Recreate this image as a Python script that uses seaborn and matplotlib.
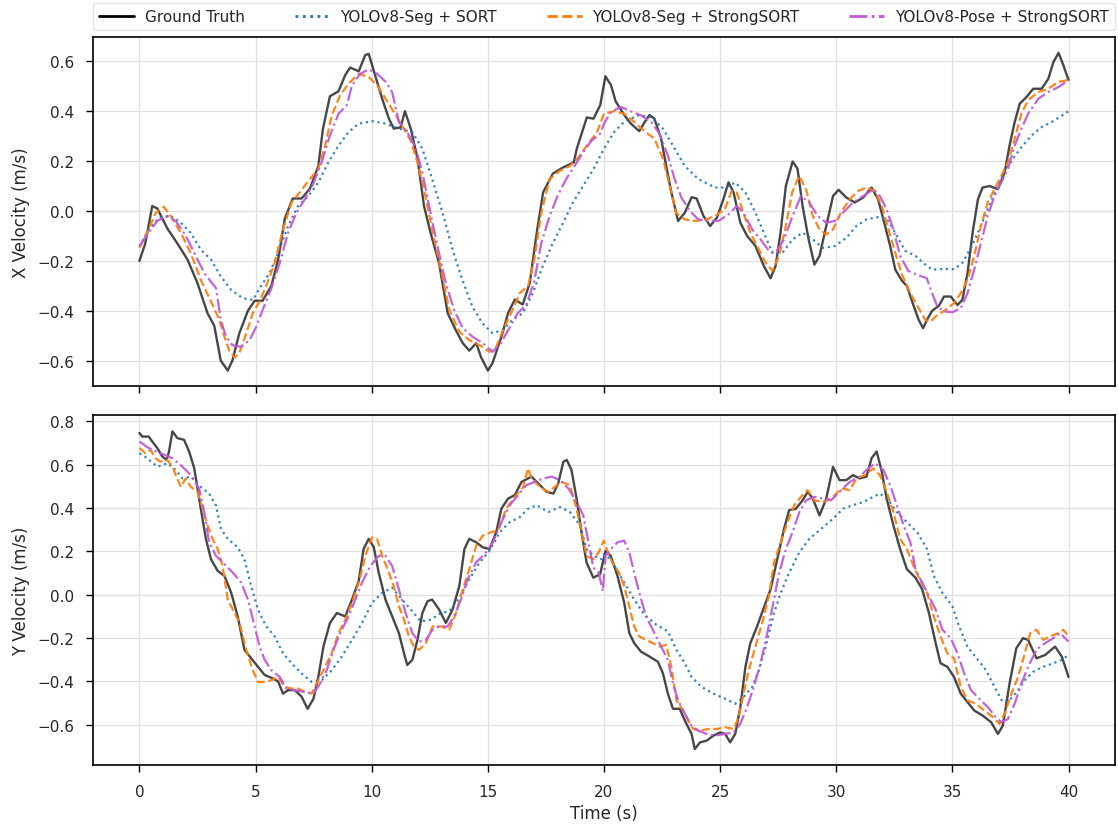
import matplotlib
matplotlib.use("Agg")
import matplotlib.pyplot as plt
from matplotlib.lines import Line2D
import seaborn as sns
import pandas as pd

# ---------------- data: (time s, velocity m/s) ----------------
gt_x = [(0,-0.2),(0.25,-0.13),(0.55,0.02),(0.77,0.01),(1.2,-0.07),(1.63,-0.13),(2.07,-0.195),(2.5,-0.29),(2.93,-0.41),(3.22,-0.46),(3.5,-0.6),(3.8,-0.64),(4.0,-0.6),(4.3,-0.49),(4.67,-0.40),(4.96,-0.36),(5.3,-0.36),(5.68,-0.30),(5.97,-0.195),(6.26,-0.03),(6.6,0.05),(6.98,0.05),(7.34,0.09),(7.7,0.18),(7.9,0.33),(8.2,0.46),(8.57,0.48),(8.86,0.545),(9.07,0.575),(9.44,0.56),(9.72,0.625),(9.87,0.63),(10.08,0.565),(10.45,0.45),(10.74,0.37),(10.95,0.33),(11.24,0.335),(11.43,0.40),(11.68,0.33),(11.97,0.21),(12.25,0.02),(12.54,-0.09),(12.9,-0.21),(13.27,-0.41),(13.63,-0.48),(13.92,-0.53),(14.2,-0.56),(14.5,-0.53),(14.7,-0.585),(15.0,-0.64),(15.2,-0.61),(15.58,-0.505),(15.87,-0.41),(16.16,-0.355),(16.5,-0.375),(16.8,-0.29),(17.1,-0.09),(17.38,0.075),(17.8,0.15),(18.25,0.175),(18.7,0.195),(18.83,0.25),(19.26,0.375),(19.55,0.37),(19.84,0.425),(20.06,0.54),(20.3,0.505),(20.5,0.44),(20.87,0.385),(21.16,0.35),(21.52,0.32),(21.74,0.355),(21.96,0.385),(22.17,0.37),(22.46,0.29),(22.68,0.18),(22.9,0.075),(23.19,-0.04),(23.48,-0.007),(23.77,0.055),(23.99,0.05),(24.28,-0.02),(24.57,-0.06),(24.86,-0.027),(25.14,0.047),(25.36,0.115),(25.58,0.074),(25.87,-0.047),(26.16,-0.10),(26.52,-0.14),(26.88,-0.22),(27.17,-0.27),(27.39,-0.22),(27.6,-0.087),(27.83,0.10),(28.12,0.198),(28.33,0.17),(28.55,0.02),(28.81,-0.114),(29.06,-0.215),(29.28,-0.18),(29.57,-0.06),(29.86,0.06),(30.1,0.085),(30.43,0.054),(30.8,0.034),(31.16,0.054),(31.52,0.094),(31.8,0.047),(32.03,-0.034),(32.32,-0.14),(32.54,-0.235),(32.83,-0.28),(33.04,-0.30),(33.33,-0.38),(33.55,-0.437),(33.74,-0.47),(33.9,-0.437),(34.13,-0.40),(34.42,-0.38),(34.64,-0.343),(34.93,-0.343),(35.22,-0.377),(35.43,-0.356),(35.65,-0.25),(35.87,-0.087),(36.1,0.047),(36.3,0.094),(36.6,0.10),(36.96,0.087),(37.25,0.155),(37.46,0.262),(37.68,0.356),(37.9,0.43),(38.19,0.457),(38.48,0.49),(38.84,0.49),(39.13,0.53),(39.35,0.597),(39.57,0.634),(39.78,0.584),(40,0.525)]

sort_x = [(0,-0.141),(0.4,-0.074),(0.84,-0.027),(1.34,-0.02),(1.78,-0.047),(2.2,-0.087),(2.64,-0.155),(3.08,-0.195),(3.5,-0.262),(3.94,-0.316),(4.45,-0.35),(4.88,-0.357),(5.24,-0.30),(5.6,-0.249),(5.97,-0.168),(6.4,-0.06),(6.83,0.02),(7.27,0.06),(7.7,0.114),(8.13,0.195),(8.57,0.262),(9.0,0.316),(9.44,0.35),(10.0,0.36),(10.6,0.35),(11.17,0.33),(11.75,0.316),(12.18,0.25),(12.6,0.128),(13.05,-0.007),(13.48,-0.155),(13.9,-0.276),(14.33,-0.383),(14.76,-0.45),(15.2,-0.49),(15.63,-0.478),(16.06,-0.437),(16.5,-0.41),(16.93,-0.33),(17.36,-0.222),(17.8,-0.128),(18.24,-0.047),(18.66,0.034),(19.1,0.10),(19.55,0.168),(20.0,0.25),(20.43,0.316),(20.87,0.357),(21.45,0.383),(22.03,0.377),(22.54,0.33),(22.97,0.262),(23.48,0.18),(24.06,0.128),(24.78,0.094),(25.22,0.094),(25.65,0.114),(26.09,0.074),(26.52,-0.007),(26.88,-0.087),(27.25,-0.168),(27.68,-0.168),(28.12,-0.114),(28.55,-0.087),(28.99,-0.114),(29.42,-0.148),(29.93,-0.141),(30.43,-0.108),(30.87,-0.06),(31.3,-0.034),(31.88,-0.023),(32.25,-0.04),(32.61,-0.10),(32.97,-0.16),(33.41,-0.18),(33.77,-0.21),(34.13,-0.235),(34.64,-0.233),(35.07,-0.233),(35.43,-0.208),(35.8,-0.148),(36.16,-0.074),(36.52,0.007),(36.88,0.087),(37.25,0.155),(37.61,0.21),(37.97,0.256),(38.41,0.303),(38.84,0.336),(39.28,0.357),(39.72,0.383),(40,0.40)]

strong_x = [(0,-0.148),(0.33,-0.087),(0.7,-0.007),(1.05,0.017),(1.34,-0.02),(1.78,-0.087),(2.2,-0.168),(2.64,-0.276),(3.08,-0.363),(3.44,-0.437),(3.66,-0.505),(3.87,-0.56),(4.09,-0.588),(4.3,-0.57),(4.6,-0.49),(4.88,-0.41),(5.17,-0.363),(5.46,-0.30),(5.82,-0.208),(6.18,-0.074),(6.55,0.034),(6.9,0.074),(7.27,0.12),(7.7,0.168),(7.99,0.26),(8.28,0.383),(8.64,0.464),(9.0,0.51),(9.44,0.55),(9.87,0.538),(10.23,0.504),(10.6,0.45),(10.95,0.397),(11.3,0.343),(11.68,0.282),(11.97,0.195),(12.25,0.087),(12.6,-0.074),(12.98,-0.235),(13.34,-0.397),(13.77,-0.484),(14.2,-0.518),(14.64,-0.538),(15.07,-0.565),(15.36,-0.545),(15.65,-0.478),(16.0,-0.41),(16.37,-0.33),(16.73,-0.30),(17.0,-0.195),(17.3,-0.007),(17.66,0.128),(18.1,0.161),(18.53,0.18),(18.9,0.215),(19.26,0.262),(19.7,0.316),(20.0,0.39),(20.43,0.40),(20.87,0.39),(21.3,0.357),(21.74,0.32),(22.17,0.29),(22.54,0.21),(22.83,0.10),(23.1,-0.007),(23.48,-0.034),(23.9,-0.04),(24.35,-0.036),(24.78,-0.02),(25.2,0.007),(25.5,0.08),(25.72,0.074),(26.0,-0.007),(26.3,-0.087),(26.67,-0.155),(26.96,-0.208),(27.25,-0.24),(27.54,-0.18),(27.83,-0.06),(28.1,0.074),(28.4,0.14),(28.7,0.087),(28.99,-0.02),(29.28,-0.074),(29.57,-0.094),(29.86,-0.074),(30.2,-0.007),(30.58,0.047),(30.94,0.08),(31.3,0.094),(31.67,0.08),(31.96,0.02),(32.25,-0.074),(32.54,-0.168),(32.83,-0.255),(33.19,-0.33),(33.55,-0.39),(33.84,-0.437),(34.06,-0.444),(34.35,-0.417),(34.71,-0.397),(35.07,-0.37),(35.36,-0.33),(35.65,-0.276),(35.94,-0.18),(36.23,-0.06),(36.52,0.034),(36.81,0.087),(37.1,0.14),(37.39,0.195),(37.68,0.29),(37.97,0.39),(38.26,0.444),(38.7,0.477),(39.13,0.49),(39.57,0.518),(40,0.525)]

pose_x = [(0,-0.141),(0.4,-0.087),(0.77,-0.04),(1.2,-0.02),(1.56,-0.04),(2.0,-0.10),(2.36,-0.168),(2.79,-0.249),(3.3,-0.31),(3.5,-0.437),(3.73,-0.505),(4.0,-0.538),(4.38,-0.545),(4.74,-0.518),(5.03,-0.464),(5.3,-0.397),(5.68,-0.31),(6.04,-0.208),(6.4,-0.087),(6.76,-0.007),(7.12,0.047),(7.48,0.108),(7.84,0.195),(8.2,0.303),(8.57,0.39),(8.93,0.424),(9.15,0.504),(9.5,0.55),(9.87,0.568),(10.23,0.55),(10.6,0.518),(10.88,0.477),(11.17,0.356),(11.53,0.316),(11.9,0.25),(12.18,0.155),(12.47,0.02),(12.83,-0.141),(13.19,-0.29),(13.55,-0.397),(13.92,-0.47),(14.35,-0.505),(14.78,-0.53),(15.2,-0.565),(15.56,-0.53),(15.92,-0.47),(16.28,-0.41),(16.65,-0.377),(17.0,-0.282),(17.3,-0.128),(17.66,-0.02),(18.0,0.06),(18.37,0.128),(18.73,0.18),(19.1,0.235),(19.46,0.282),(19.84,0.31),(20.0,0.35),(20.3,0.397),(20.72,0.417),(21.16,0.40),(21.6,0.383),(22.03,0.357),(22.39,0.31),(22.75,0.222),(23.04,0.128),(23.33,0.054),(23.7,0.0),(24.06,-0.034),(24.49,-0.04),(24.93,-0.04),(25.36,-0.013),(25.72,0.02),(26.0,-0.007),(26.38,-0.074),(26.74,-0.114),(27.1,-0.16),(27.39,-0.168),(27.75,-0.114),(28.12,-0.02),(28.48,0.06),(28.84,0.034),(29.2,-0.02),(29.57,-0.047),(29.93,-0.04),(30.29,-0.007),(30.72,0.034),(31.16,0.06),(31.6,0.087),(31.88,0.06),(32.17,0.007),(32.46,-0.074),(32.75,-0.18),(33.1,-0.24),(33.46,-0.255),(33.9,-0.27),(34.13,-0.33),(34.35,-0.383),(34.64,-0.403),(35.0,-0.406),(35.36,-0.39),(35.65,-0.33),(35.94,-0.235),(36.23,-0.128),(36.52,-0.02),(36.81,0.06),(37.1,0.114),(37.39,0.168),(37.68,0.262),(37.97,0.33),(38.26,0.39),(38.7,0.45),(39.13,0.477),(39.57,0.497),(40,0.525)]

gt_y = [(0,0.746),(0.12,0.73),(0.4,0.73),(0.55,0.707),(0.77,0.677),(0.98,0.638),(1.17,0.622),(1.27,0.66),(1.42,0.754),(1.63,0.723),(1.92,0.715),(2.14,0.66),(2.36,0.583),(2.5,0.49),(2.64,0.397),(2.86,0.258),(3.08,0.164),(3.37,0.11),(3.66,0.087),(3.95,0.009),(4.23,-0.10),(4.52,-0.254),(4.81,-0.293),(5.1,-0.332),(5.39,-0.37),(5.75,-0.386),(5.97,-0.40),(6.18,-0.456),(6.4,-0.44),(6.69,-0.44),(6.98,-0.47),(7.24,-0.526),(7.49,-0.48),(7.7,-0.379),(7.92,-0.239),(8.2,-0.13),(8.5,-0.084),(8.86,-0.10),(9.15,-0.022),(9.44,0.064),(9.65,0.211),(9.87,0.258),(10.09,0.219),(10.3,0.102),(10.59,-0.022),(10.88,-0.10),(11.17,-0.177),(11.39,-0.27),(11.53,-0.324),(11.75,-0.30),(11.97,-0.208),(12.18,-0.084),(12.4,-0.03),(12.6,-0.022),(12.9,-0.068),(13.19,-0.13),(13.48,-0.068),(13.77,0.04),(13.99,0.211),(14.2,0.258),(14.5,0.242),(14.78,0.219),(15.07,0.211),(15.36,0.289),(15.58,0.397),(15.87,0.444),(16.16,0.46),(16.45,0.521),(16.88,0.545),(17.24,0.506),(17.53,0.475),(17.82,0.467),(18.03,0.514),(18.25,0.614),(18.4,0.622),(18.6,0.576),(18.82,0.444),(19.03,0.289),(19.25,0.149),(19.54,0.079),(19.83,0.095),(20.07,0.203),(20.29,0.18),(20.58,0.087),(20.87,-0.037),(21.09,-0.177),(21.3,-0.223),(21.59,-0.262),(21.96,-0.285),(22.32,-0.309),(22.54,-0.363),(22.75,-0.456),(22.97,-0.526),(23.26,-0.526),(23.48,-0.58),(23.77,-0.642),(23.91,-0.712),(24.13,-0.681),(24.42,-0.673),(24.71,-0.65),(25.0,-0.635),(25.22,-0.642),(25.43,-0.681),(25.65,-0.642),(25.87,-0.518),(26.09,-0.332),(26.3,-0.223),(26.59,-0.146),(26.88,-0.06),(27.17,0.025),(27.46,0.164),(27.75,0.304),(27.97,0.39),(28.26,0.397),(28.55,0.436),(28.77,0.475),(28.99,0.444),(29.28,0.366),(29.57,0.444),(29.86,0.59),(30.14,0.529),(30.43,0.529),(30.72,0.552),(31.0,0.537),(31.3,0.545),(31.52,0.63),(31.74,0.661),(31.96,0.568),(32.17,0.444),(32.46,0.32),(32.75,0.211),(33.04,0.118),(33.41,0.079),(33.7,0.025),(33.99,-0.084),(34.28,-0.223),(34.49,-0.316),(34.78,-0.332),(35.07,-0.379),(35.36,-0.456),(35.65,-0.495),(35.94,-0.534),(36.3,-0.557),(36.67,-0.588),(36.96,-0.642),(37.17,-0.604),(37.46,-0.41),(37.75,-0.247),(38.04,-0.20),(38.26,-0.208),(38.62,-0.293),(38.99,-0.278),(39.42,-0.239),(39.71,-0.285),(40,-0.379)]

sort_y = [(0,0.653),(0.33,0.63),(0.77,0.591),(1.2,0.607),(1.56,0.576),(1.85,0.537),(2.21,0.545),(2.64,0.498),(3.0,0.467),(3.29,0.413),(3.51,0.304),(3.8,0.258),(4.23,0.219),(4.52,0.164),(4.81,0.04),(5.1,-0.068),(5.46,-0.146),(5.82,-0.192),(6.18,-0.27),(6.55,-0.316),(6.98,-0.363),(7.41,-0.402),(7.85,-0.394),(8.28,-0.348),(8.71,-0.285),(9.15,-0.208),(9.58,-0.13),(10.01,-0.037),(10.45,0.009),(10.88,0.033),(11.31,-0.022),(11.68,-0.068),(12.11,-0.123),(12.54,-0.115),(12.98,-0.084),(13.34,-0.076),(13.77,-0.014),(14.2,0.071),(14.64,0.149),(15.07,0.203),(15.51,0.289),(15.94,0.335),(16.37,0.358),(16.73,0.397),(17.1,0.413),(17.6,0.382),(18.11,0.405),(18.53,0.382),(18.97,0.32),(19.25,0.211),(19.54,0.18),(19.9,0.164),(20.0,0.188),(20.29,0.164),(20.58,0.11),(20.87,0.056),(21.3,-0.022),(21.74,-0.092),(22.25,-0.138),(22.75,-0.169),(23.12,-0.254),(23.48,-0.316),(23.77,-0.379),(24.2,-0.425),(24.71,-0.456),(25.22,-0.48),(25.65,-0.503),(26.01,-0.472),(26.38,-0.425),(26.67,-0.348),(26.96,-0.239),(27.32,-0.084),(27.61,0.009),(27.97,0.102),(28.41,0.196),(28.84,0.258),(29.35,0.304),(29.86,0.351),(30.29,0.397),(30.72,0.413),(31.16,0.428),(31.59,0.452),(31.88,0.467),(32.25,0.436),(32.61,0.382),(33.04,0.335),(33.48,0.289),(33.91,0.211),(34.2,0.087),(34.57,0.009),(35.0,-0.053),(35.29,-0.146),(35.65,-0.239),(36.09,-0.30),(36.45,-0.348),(36.81,-0.425),(37.17,-0.495),(37.46,-0.487),(37.83,-0.44),(38.12,-0.394),(38.48,-0.355),(38.91,-0.332),(39.35,-0.316),(39.71,-0.30),(40,-0.278)]

strong_y = [(0,0.677),(0.26,0.653),(0.48,0.669),(0.69,0.63),(0.91,0.614),(1.2,0.622),(1.42,0.591),(1.63,0.537),(1.78,0.498),(1.99,0.537),(2.21,0.498),(2.5,0.475),(2.72,0.397),(2.93,0.32),(3.15,0.258),(3.37,0.211),(3.58,0.133),(3.8,-0.022),(4.02,-0.068),(4.31,-0.13),(4.6,-0.254),(4.88,-0.348),(5.1,-0.402),(5.39,-0.402),(5.68,-0.394),(5.97,-0.379),(6.26,-0.425),(6.55,-0.433),(6.84,-0.433),(7.12,-0.448),(7.41,-0.456),(7.7,-0.394),(7.99,-0.332),(8.28,-0.27),(8.57,-0.177),(8.86,-0.115),(9.15,-0.037),(9.44,0.056),(9.73,0.18),(10.01,0.265),(10.23,0.258),(10.45,0.18),(10.74,0.102),(10.95,0.04),(11.17,-0.053),(11.39,-0.115),(11.6,-0.192),(11.82,-0.239),(12.04,-0.254),(12.33,-0.223),(12.62,-0.146),(12.98,-0.146),(13.34,-0.161),(13.63,-0.084),(13.92,0.025),(14.2,0.118),(14.5,0.227),(14.78,0.273),(15.14,0.289),(15.43,0.296),(15.79,0.397),(16.16,0.452),(16.52,0.498),(16.73,0.583),(16.88,0.537),(17.24,0.498),(17.6,0.475),(17.88,0.498),(18.16,0.521),(18.53,0.506),(18.82,0.397),(19.03,0.289),(19.25,0.18),(19.54,0.164),(19.77,0.196),(19.99,0.25),(20.2,0.188),(20.36,0.149),(20.65,0.102),(20.87,0.04),(21.09,-0.053),(21.3,-0.146),(21.52,-0.192),(21.81,-0.208),(22.1,-0.223),(22.39,-0.239),(22.68,-0.231),(22.9,-0.332),(23.12,-0.487),(23.41,-0.534),(23.62,-0.58),(23.84,-0.619),(24.13,-0.627),(24.49,-0.619),(24.86,-0.619),(25.22,-0.611),(25.58,-0.619),(25.8,-0.565),(26.01,-0.456),(26.23,-0.348),(26.52,-0.239),(26.81,-0.13),(27.1,-0.006),(27.32,0.149),(27.61,0.242),(27.9,0.335),(28.19,0.413),(28.48,0.452),(28.77,0.483),(29.06,0.436),(29.42,0.428),(29.78,0.444),(30.22,0.49),(30.58,0.483),(30.87,0.537),(31.23,0.552),(31.59,0.583),(31.88,0.552),(32.17,0.475),(32.46,0.382),(32.75,0.258),(33.04,0.211),(33.33,0.133),(33.62,0.064),(33.91,0.009),(34.2,-0.10),(34.49,-0.192),(34.78,-0.27),(35.07,-0.293),(35.36,-0.425),(35.65,-0.487),(36.01,-0.503),(36.38,-0.534),(36.75,-0.565),(37.03,-0.596),(37.25,-0.549),(37.54,-0.456),(37.83,-0.379),(38.12,-0.27),(38.35,-0.177),(38.62,-0.161),(38.91,-0.208),(39.2,-0.192),(39.57,-0.177),(39.78,-0.161),(40,-0.192)]

pose_y = [(0,0.707),(0.4,0.677),(0.91,0.653),(1.42,0.63),(1.85,0.591),(2.21,0.552),(2.57,0.49),(2.79,0.382),(3.0,0.242),(3.29,0.18),(3.66,0.141),(4.02,0.102),(4.38,0.056),(4.67,-0.022),(4.96,-0.146),(5.17,-0.239),(5.39,-0.30),(5.68,-0.348),(6.04,-0.379),(6.33,-0.433),(6.69,-0.44),(7.12,-0.448),(7.49,-0.456),(7.77,-0.41),(8.06,-0.348),(8.35,-0.254),(8.64,-0.177),(9.0,-0.10),(9.29,-0.022),(9.58,0.056),(9.94,0.133),(10.3,0.18),(10.59,0.18),(10.88,0.133),(11.17,0.025),(11.46,-0.084),(11.75,-0.177),(12.04,-0.216),(12.33,-0.208),(12.62,-0.161),(12.9,-0.146),(13.27,-0.146),(13.55,-0.10),(13.84,-0.022),(14.13,0.071),(14.49,0.149),(14.86,0.188),(15.22,0.242),(15.58,0.335),(15.94,0.413),(16.3,0.46),(16.66,0.506),(17.02,0.521),(17.39,0.537),(17.75,0.545),(18.11,0.529),(18.47,0.49),(18.82,0.428),(19.11,0.366),(19.33,0.242),(19.54,0.126),(19.77,0.102),(19.95,0.017),(20.07,0.18),(20.29,0.211),(20.58,0.242),(20.87,0.25),(21.09,0.196),(21.3,0.102),(21.52,0.009),(21.81,-0.10),(22.1,-0.161),(22.46,-0.239),(22.75,-0.30),(22.97,-0.41),(23.19,-0.487),(23.48,-0.549),(23.77,-0.604),(24.06,-0.627),(24.42,-0.642),(24.78,-0.65),(25.22,-0.642),(25.58,-0.635),(25.87,-0.596),(26.16,-0.518),(26.45,-0.425),(26.74,-0.316),(27.03,-0.177),(27.32,-0.022),(27.54,0.102),(27.83,0.211),(28.12,0.289),(28.41,0.382),(28.7,0.436),(29.06,0.452),(29.42,0.444),(29.78,0.436),(30.14,0.475),(30.58,0.521),(31.0,0.545),(31.38,0.583),(31.67,0.607),(32.03,0.576),(32.32,0.506),(32.61,0.413),(32.9,0.32),(33.19,0.242),(33.41,0.118),(33.7,0.056),(33.99,-0.006),(34.28,-0.068),(34.57,-0.161),(34.93,-0.20),(35.22,-0.27),(35.51,-0.363),(35.8,-0.44),(36.16,-0.48),(36.52,-0.518),(36.81,-0.557),(37.1,-0.588),(37.39,-0.573),(37.68,-0.503),(37.97,-0.41),(38.26,-0.332),(38.62,-0.254),(38.99,-0.223),(39.35,-0.20),(39.64,-0.177),(40,-0.216)]

labels = ["Ground Truth", "YOLOv8-Seg + SORT", "YOLOv8-Seg + StrongSORT", "YOLOv8-Pose + StrongSORT"]
x_ticks = [0, 5, 10, 15, 20, 25, 30, 35, 40]

# ---------------- styling ----------------
sns.set_theme(style="ticks")
plt.rcParams['font.family'] = ['DejaVu Sans']
styles = [
    dict(color="black", alpha=0.72, linestyle="-", lw=1.7),
    dict(color="#1f77b4", alpha=0.9, linestyle=":", lw=1.6),
    dict(color="#ff7f0e", alpha=0.95, linestyle="--", lw=1.6),
    dict(color="#bf5bd6", alpha=0.95, linestyle="-.", lw=1.6),
]

fig, (ax1, ax2) = plt.subplots(2, 1, figsize=(11.18, 8.29), dpi=100, sharex=True)
fig.subplots_adjust(left=0.0832, right=0.9973, top=0.9542, bottom=0.076, hspace=0.083)

def draw(ax, series):
    for s, st in zip(series, styles):
        df = pd.DataFrame(s, columns=["t", "v"])
        sns.lineplot(data=df, x="t", y="v", ax=ax, estimator=None, sort=False,
                     legend=False, **st)
    ax.grid(True, color="#e0e0e0", lw=0.9)
    for sp in ax.spines.values():
        sp.set_visible(True)
        sp.set_color("black")
        sp.set_linewidth(1.2)
    ax.tick_params(axis="both", labelsize=11, length=5, width=1, color="black",
                   direction="out", pad=8.5)

draw(ax1, [gt_x, sort_x, strong_x, pose_x])
draw(ax2, [gt_y, sort_y, strong_y, pose_y])

ax1.set_ylabel("X Velocity (m/s)", fontsize=12, labelpad=5)
ax2.set_ylabel("Y Velocity (m/s)", fontsize=12, labelpad=5)
ax1.set_xlabel("")
ax2.set_xlabel("Time (s)", fontsize=12, labelpad=4)
ax2.set_xticks(x_ticks)
ax1.set_yticks([-0.6, -0.4, -0.2, 0.0, 0.2, 0.4, 0.6])
ax2.set_yticks([-0.6, -0.4, -0.2, 0.0, 0.2, 0.4, 0.6, 0.8])
ax1.tick_params(labelbottom=False)

handles = [Line2D([0], [0], color=st["color"], linestyle=st["linestyle"], lw=2) for st in styles]
ax1.legend(handles, labels, loc="lower left", bbox_to_anchor=(0, 1.02, 1, 0.08),
           mode="expand", ncol=4, fontsize=11, frameon=True, borderaxespad=0,
           handlelength=2.3, handletextpad=0.7, edgecolor="#dddddd", fancybox=True)

fig.savefig("out.png", dpi=100)
